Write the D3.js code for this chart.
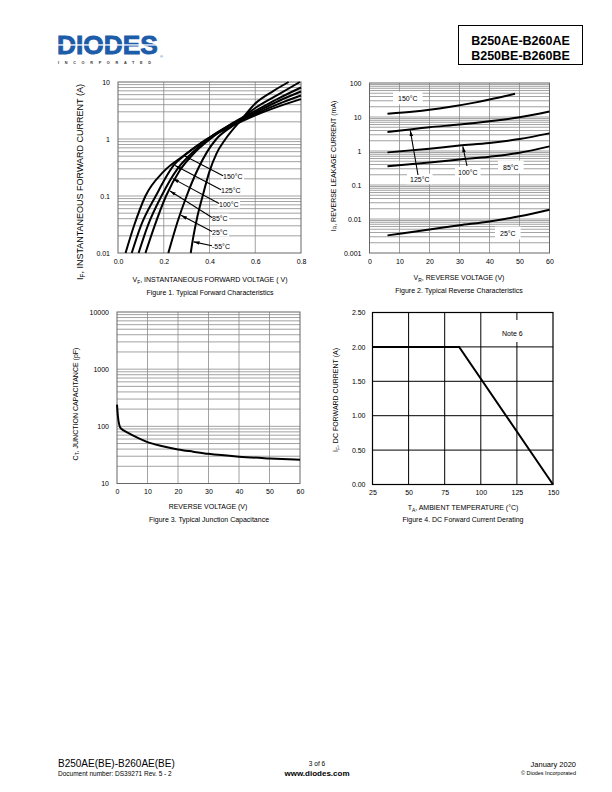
<!DOCTYPE html>
<html><head><meta charset="utf-8">
<script src="https://cdn.jsdelivr.net/npm/d3@7"></script>
<style>body{margin:0;background:#fff}svg{display:block}</style>
</head><body>
<svg id="c" width="612" height="792"></svg>
<script>
// ---------------- DATA ----------------
// Figure 1: typical forward characteristics (VF in V, IF in A)
const fig1Temps = ["150°C","125°C","100°C","85°C","25°C","-55°C"];
const vf150 = [0.033,0.07,0.12,0.2,0.29,0.38,0.5,0.6,0.7,0.8];
const if150 = [0.01,0.03,0.1,0.27,0.52,0.95,1.7,2.6,3.7,5.0];
const vf125 = [0.06,0.1,0.165,0.245,0.3,0.39,0.5,0.6,0.7,0.8];
const if125 = [0.01,0.03,0.1,0.35,0.55,1.0,1.8,2.75,4.1,5.8];
const vf100 = [0.09,0.13,0.19,0.26,0.32,0.4,0.5,0.6,0.7,0.8];
const if100 = [0.01,0.03,0.1,0.3,0.55,1.05,1.85,2.9,4.6,6.8];
const vf85  = [0.12,0.16,0.21,0.27,0.33,0.41,0.5,0.6,0.7,0.8];
const if85  = [0.01,0.03,0.1,0.28,0.55,1.05,1.9,3.1,5.1,8.0];
const vf25  = [0.22,0.26,0.3,0.35,0.39,0.43,0.5,0.6,0.7,0.795];
const if25  = [0.01,0.035,0.1,0.3,0.6,1.0,1.7,3.5,6.0,10];
const vfM55 = [0.318,0.328,0.345,0.37,0.4,0.43,0.47,0.54,0.6,0.68,0.746];
const ifM55 = [0.01,0.018,0.04,0.1,0.27,0.55,1.0,2.2,4.2,7.0,10];
const fig1TipV = [0.288,0.245,0.236,0.223,0.271,0.326];
const fig1YTicks = [0.01,0.1,1,10];
const fig1YLabels = ["0.01","0.1","1","10"];
const fig1XTicks = [0,0.2,0.4,0.6,0.8];
const fig1XLabels = ["0.0","0.2","0.4","0.6","0.8"];

// Figure 2: typical reverse characteristics (VR in V, IR in mA)
const fig2Temps = ["150°C","125°C","100°C","85°C","25°C"];
const vr150 = [6,15,20,27,35,40,45,48.5];
const ir150 = [12.5,14.5,16.3,20,26.5,32.5,40.5,48];
const vr125 = [6,20,30,40,50,60];
const ir125 = [3.6,5.0,6.0,7.5,9.8,14.5];
const vr100 = [6,20,30,40,50,60];
const ir100 = [0.91,1.17,1.44,1.72,2.25,3.3];
const vr85  = [6,20,30,40,50,60];
const ir85  = [0.355,0.46,0.56,0.68,0.89,1.37];
const vr25  = [6,20,30,40,50,60];
const ir25  = [0.0033,0.0049,0.0065,0.0085,0.012,0.0188];
const fig2YTicks = [0.001,0.01,0.1,1,10,100];
const fig2YLabels = ["0.001","0.01","0.1","1","10","100"];
const fig2XTicks = [0,10,20,30,40,50,60];

// Figure 3: typical junction capacitance (VR in V, CT in pF)
const capV = [0,0.3,0.6,1,1.5,2,3,5,7,10,15,20,25,30,40,50,60];
const capC = [240,150,115,97,90,86,80,70,62,53,45,39.5,36,33,29.5,27.5,26];
const fig3YTicks = [10,100,1000,10000];
const fig3YLabels = ["10","100","1000","10000"];
const fig3XTicks = [0,10,20,30,40,50,60];

// Figure 4: DC forward current derating (TA in °C, IF in A)
const deratT = [25,85,150];
const deratI = [2.0,2.0,0.0];
const fig4YTicks = [0,0.5,1.0,1.5,2.0,2.5];
const fig4YLabels = ["0.00","0.50","1.00","1.50","2.00","2.50"];
const fig4XTicks = [25,50,75,100,125,150];

// ---------------- DRAWING ----------------
const FONT = '"Liberation Sans", Arial, Helvetica, sans-serif';
const svg = d3.select("#c");
const zip = (a,b) => a.map((v,i)=>[v,b[i]]);

const defs = svg.append("defs");
defs.append("marker").attr("id","arr").attr("viewBox","0 0 10 6")
  .attr("refX",10).attr("refY",3).attr("markerWidth",6).attr("markerHeight",3.6)
  .attr("markerUnits","userSpaceOnUse").attr("orient","auto")
  .append("path").attr("d","M0,0 L10,3 L0,6 Z").attr("fill","#000");

function txt(g, x, y, s, size, opts={}) {
  const t = g.append("text").attr("x",x).attr("y",y).attr("font-family",FONT)
    .attr("font-size",size).attr("fill",opts.fill||"#000")
    .attr("text-anchor",opts.anchor||"start");
  if (opts.weight) t.attr("font-weight",opts.weight);
  t.text(s);
  return t;
}

function panel(o) {
  const g = svg.append("g");
  const [xa,xb] = o.x.range();
  const [ya,yb] = o.y.range();
  const gc = o.gridColor;
  const hv = [];
  if (o.log) {
    const [d0,d1] = o.y.domain();
    for (let e=Math.round(Math.log10(d0)); e<Math.round(Math.log10(d1)); e++)
      for (let k=2;k<=9;k++) hv.push(k*Math.pow(10,e));
  }
  o.yTicks.slice(1,-1).forEach(v=>hv.push(v));
  g.selectAll(".hg").data(hv).enter().append("line")
    .attr("x1",xa).attr("x2",xb).attr("y1",d=>o.y(d)).attr("y2",d=>o.y(d))
    .attr("stroke",gc).attr("stroke-width",o.gw||0.8);
  g.selectAll(".vg").data(o.xTicks.slice(1,-1)).enter().append("line")
    .attr("y1",ya).attr("y2",yb).attr("x1",d=>o.x(d)).attr("x2",d=>o.x(d))
    .attr("stroke",gc).attr("stroke-width",o.gw||0.8);
  g.append("rect").attr("x",xa).attr("y",yb).attr("width",xb-xa).attr("height",ya-yb)
    .attr("fill","none").attr("stroke",o.frameColor).attr("stroke-width",o.fw||1);
  const ay = g.append("g").attr("transform",`translate(${xa},0)`)
    .call(d3.axisLeft(o.y).tickValues(o.yTicks).tickFormat((d,i)=>o.yLabels[i]).tickSize(0).tickPadding(o.padY||8));
  ay.select(".domain").remove();
  ay.attr("font-family",FONT).attr("font-size",7);
  const ax = g.append("g").attr("transform",`translate(0,${ya})`)
    .call(d3.axisBottom(o.x).tickValues(o.xTicks).tickFormat((d,i)=>o.xLabels?o.xLabels[i]:String(d)).tickSize(0).tickPadding(o.padX||6));
  ax.select(".domain").remove();
  ax.attr("font-family",FONT).attr("font-size",7);
  return g;
}

function rotLabel(x, y, main, sub, rest, size) {
  const t = svg.append("text").attr("transform",`translate(${x},${y}) rotate(-90)`)
    .attr("text-anchor","middle").attr("font-family",FONT).attr("font-size",size);
  t.append("tspan").text(main);
  if (sub) t.append("tspan").attr("font-size",size*0.7).attr("dy",size*0.25).text(sub);
  t.append("tspan").attr("dy",sub?-size*0.25:0).text(rest);
}
function xLabel(x, y, main, sub, rest, size) {
  const t = svg.append("text").attr("x",x).attr("y",y)
    .attr("text-anchor","middle").attr("font-family",FONT).attr("font-size",size);
  t.append("tspan").text(main);
  if (sub) t.append("tspan").attr("font-size",size*0.7).attr("dy",size*0.25).text(sub);
  t.append("tspan").attr("dy",sub?-size*0.25:0).text(rest);
}
function interpLog(vs, is, v) {
  for (let i=0;i<vs.length-1;i++) {
    if (v>=vs[i] && v<=vs[i+1]) {
      const t=(v-vs[i])/(vs[i+1]-vs[i]);
      return Math.pow(10, Math.log10(is[i])+t*(Math.log10(is[i+1])-Math.log10(is[i])));
    }
  }
  return is[0];
}
function labelBox(g, x, y, s, size, pad) {
  const t = txt(g, x, y, s, size);
  const bb = t.node().getBBox();
  g.insert("rect", () => t.node()).attr("x",bb.x-pad).attr("y",bb.y-pad*0.6)
    .attr("width",bb.width+2*pad).attr("height",bb.height+pad*1.2).attr("fill","#fff");
  return t;
}

// ---------- Header ----------
const hdr = svg.append("g");
hdr.append("text").attr("x",57).attr("y",54).attr("font-family",FONT)
  .attr("font-weight","bold").attr("font-size",26.3).attr("fill","#1d5ca9")
  .attr("stroke","#1d5ca9").attr("stroke-width",0.9).text("DIODES");
hdr.append("rect").attr("x",56).attr("y",44.3).attr("width",104).attr("height",1.3).attr("fill","#fff");
hdr.append("text").attr("x",58).attr("y",63.5).attr("font-family",FONT).attr("font-size",3.8)
  .attr("font-weight","bold").attr("fill","#333").attr("textLength",93)
  .attr("lengthAdjust","spacing").text("INCORPORATED");
txt(hdr,160,57.5,"®",4,{fill:"#1d5ca9"});
hdr.append("rect").attr("x",458.5).attr("y",25.5).attr("width",124).attr("height",39)
  .attr("fill","none").attr("stroke","#000").attr("stroke-width",1);
txt(hdr,520.5,45,"B250AE-B260AE",12.5,{anchor:"middle",weight:"bold"});
txt(hdr,520.5,60,"B250BE-B260BE",12.5,{anchor:"middle",weight:"bold"});

// ---------- Figure 1 ----------
const x1 = d3.scaleLinear().domain([0,0.8]).range([118,301]);
const y1 = d3.scaleLog().domain([0.01,10]).range([253,82]);
const g1 = panel({x:x1,y:y1,log:true,xTicks:fig1XTicks,xLabels:fig1XLabels,yTicks:fig1YTicks,yLabels:fig1YLabels,
  gridColor:"#8a8a8a",frameColor:"#666",padY:8});
const f1Series = [[vf150,if150],[vf125,if125],[vf100,if100],[vf85,if85],[vf25,if25],[vfM55,ifM55]];
const line1 = d3.line().x(d=>x1(d[0])).y(d=>y1(d[1])).curve(d3.curveMonotoneX);
g1.selectAll(".c1").data(f1Series).enter().append("path")
  .attr("d",d=>line1(zip(d[0],d[1]))).attr("fill","none").attr("stroke","#000").attr("stroke-width",2);
const f1LabPos = [[223,178.8],[221,192.8],[219,206.5],[212,220.5],[212,234.5],[212,248.8]];
fig1Temps.forEach((s,i)=>{
  const [lx,ly] = f1LabPos[i];
  const tv = fig1TipV[i];
  const ti = interpLog(f1Series[i][0], f1Series[i][1], tv);
  labelBox(g1, lx, ly, s, 7, 1.5);
  g1.append("line").attr("x1",lx).attr("y1",ly-3).attr("x2",x1(tv)+1).attr("y2",y1(ti)+0.5)
    .attr("stroke","#000").attr("stroke-width",1.1).attr("marker-end","url(#arr)");
});
rotLabel(83, 182, "I", "F", ", INSTANTANEOUS FORWARD CURRENT (A)", 9);
xLabel(210, 282, "V", "F", ", INSTANTANEOUS FORWARD VOLTAGE ( V)", 7);
xLabel(210, 294.5, "Figure 1. Typical Forward Characteristics", null, "", 7);

// ---------- Figure 2 ----------
const x2 = d3.scaleLinear().domain([0,60]).range([369.5,549.5]);
const y2 = d3.scaleLog().domain([0.001,100]).range([253,83]);
const g2 = panel({x:x2,y:y2,log:true,xTicks:fig2XTicks,yTicks:fig2YTicks,yLabels:fig2YLabels,
  gridColor:"#8a8a8a",frameColor:"#666",padY:8});
const f2Series = [[vr150,ir150],[vr125,ir125],[vr100,ir100],[vr85,ir85],[vr25,ir25]];
const line2 = d3.line().x(d=>x2(d[0])).y(d=>y2(d[1])).curve(d3.curveMonotoneX);
g2.selectAll(".c2").data(f2Series).enter().append("path")
  .attr("d",d=>line2(zip(d[0],d[1]))).attr("fill","none").attr("stroke","#000").attr("stroke-width",2);
labelBox(g2, 398, 100.5, fig2Temps[0], 7, 5);
labelBox(g2, 410, 181.5, fig2Temps[1], 7, 3);
labelBox(g2, 458, 174.5, fig2Temps[2], 7, 3);
labelBox(g2, 503, 169.5, fig2Temps[3], 7, 5);
labelBox(g2, 500, 235.5, fig2Temps[4], 7, 5);
[[1,13.6,418,175],[2,31.1,467,166]].forEach(([si,tv,lx,ly])=>{
  const ti = interpLog(f2Series[si][0], f2Series[si][1], tv);
  g2.append("line").attr("x1",lx).attr("y1",ly).attr("x2",x2(tv)).attr("y2",y2(ti)+1)
    .attr("stroke","#000").attr("stroke-width",1.1).attr("marker-end","url(#arr)");
});
rotLabel(335.5, 166, "I", "R", ", REVERSE LEAKAGE CURRENT (mA)", 7);
xLabel(459, 280, "V", "R", ", REVERSE VOLTAGE (V)", 7);
xLabel(459, 292.5, "Figure 2. Typical Reverse Characteristics", null, "", 7);

// ---------- Figure 3 ----------
const x3 = d3.scaleLinear().domain([0,60]).range([117,300]);
const y3 = d3.scaleLog().domain([10,10000]).range([483.5,312]);
const g3 = panel({x:x3,y:y3,log:true,xTicks:fig3XTicks,yTicks:fig3YTicks,yLabels:fig3YLabels,
  gridColor:"#8a8a8a",frameColor:"#666",padY:8});
const line3 = d3.line().x(d=>x3(d[0])).y(d=>y3(d[1])).curve(d3.curveMonotoneX);
g3.append("path").attr("d",line3(zip(capV,capC))).attr("fill","none").attr("stroke","#000").attr("stroke-width",2);
rotLabel(77.5, 404, "C", "T", ", JUNCTION CAPACITANCE (pF)", 7);
xLabel(208, 508.5, "REVERSE VOLTAGE (V)", null, "", 7);
xLabel(209, 521.5, "Figure 3. Typical Junction Capacitance", null, "", 7);

// ---------- Figure 4 ----------
const x4 = d3.scaleLinear().domain([25,150]).range([372.5,553]);
const y4 = d3.scaleLinear().domain([0,2.5]).range([484.5,312.5]);
const g4 = panel({x:x4,y:y4,log:false,xTicks:fig4XTicks,yTicks:fig4YTicks,yLabels:fig4YLabels,
  gridColor:"#000",frameColor:"#000",gw:1,fw:1.2,padY:7});
const line4 = d3.line().x(d=>x4(d[0])).y(d=>y4(d[1]));
g4.append("path").attr("d",line4(zip(deratT,deratI))).attr("fill","none").attr("stroke","#000").attr("stroke-width",2);
g4.append("rect").attr("x",498).attr("y",320).attr("width",29).attr("height",22).attr("fill","#fff");
txt(g4, 502, 335.5, "Note 6", 7);
rotLabel(338, 400, "I", "F", ",  DC FORWARD CURRENT (A)", 7);
xLabel(463, 510, "T", "A", ", AMBIENT TEMPERATURE (°C)", 7);
xLabel(463, 521.5, "Figure 4. DC Forward Current Derating", null, "", 7);

// ---------- Footer ----------
const ft = svg.append("g");
txt(ft, 58, 767, "B250AE(BE)-B260AE(BE)", 10);
txt(ft, 58, 776, "Document number: DS39271  Rev. 5 - 2", 6.5);
txt(ft, 317, 766, "3 of 6", 6.5, {anchor:"middle"});
txt(ft, 317, 775.5, "www.diodes.com", 8, {anchor:"middle", weight:"bold"});
txt(ft, 576, 767, "January 2020", 7.5, {anchor:"end"});
txt(ft, 576, 775, "© Diodes Incorporated", 5.5, {anchor:"end"});
</script>
</body></html>
